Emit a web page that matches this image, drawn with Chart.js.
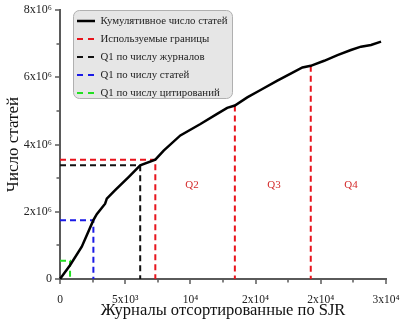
<!DOCTYPE html>
<html>
<head>
<meta charset="utf-8">
<script src="https://cdn.jsdelivr.net/npm/chart.js@4"></script>
<style>
  html, body { margin: 0; padding: 0; background: #fff; }
  #wrap { width: 400px; height: 324px; }
</style>
</head>
<body>
<div id="wrap"><canvas id="chart"></canvas></div>
<script>
// Cumulative number of articles vs. journals sorted by SJR (y in millions)
const journalRank = [0, 770, 1670, 2560, 2820, 3460, 3590, 4230, 5260, 6150, 7310, 7950, 9230,
  10770, 12050, 12820, 13410, 14360, 15380, 16670, 17690, 18590, 19230, 20260, 21280,
  22310, 23080, 23850, 24620];
const cumArticles = [0, 0.41, 0.96, 1.75, 1.93, 2.24, 2.39, 2.64, 3.03, 3.38, 3.55, 3.82, 4.27,
  4.61, 4.91, 5.09, 5.16, 5.40, 5.62, 5.90, 6.11, 6.29, 6.34, 6.49, 6.66,
  6.81, 6.91, 6.96, 7.06];

// Q1 cut-offs: [journals, articles in millions]
const usedBorder = [7310, 3.55];
const q1ByJournals = [6150, 3.38];
const q1ByArticles = [2560, 1.75];
const q1ByCitations = [770, 0.54];

// remaining used borders (Q2/Q3, Q3/Q4)
const borderX = [13410, 19230];
const borderY = [5.16, 6.34];

const quartileNames = ['Q2', 'Q3', 'Q4'];
const quartileX = [10130, 16410, 22310];
const quartileY = [2.79, 2.79, 2.79];

const xTickValues = [0, 5000, 10000, 15000, 20000, 25000];
const xTickLabels = ['0', '5x10³', '10⁴', '2x10⁴', '2x10⁴', '3x10⁴'];
const yTickValues = [0, 2, 4, 6, 8];
const yTickLabels = ['0', '2x10⁶', '4x10⁶', '6x10⁶', '8x10⁶'];

const SERIF = '"Liberation Serif", "Times New Roman", serif';
const AXIS_COLOR = '#5a5a5a';
const RED = '#e8141c';

/**
 * Corner polyline: from the y axis across to the cut-off, then down to the x axis
 */
function cornerLine(pt) {
    return [{ x: 0, y: pt[1] }, { x: pt[0], y: pt[1] }, { x: pt[0], y: 0 }];
}

function dashed(label, color, data, inLegend) {
    return {
        label: label,
        data: data,
        borderColor: color,
        borderWidth: 2,
        borderDash: [6, 4],
        pointRadius: 0,
        showLine: true,
        clip: false,
        inLegend: inLegend,
    };
}

const datasets = [
    {
        label: 'Кумулятивное число статей',
        data: journalRank.map((x, i) => ({ x: x, y: cumArticles[i] })),
        borderColor: '#000',
        borderWidth: 2.5,
        pointRadius: 0,
        showLine: true,
        clip: false,
        inLegend: true,
    },
    dashed('Используемые границы', RED, cornerLine(usedBorder), true),
    dashed('Q1 по числу журналов', '#111', cornerLine(q1ByJournals), true),
    dashed('Q1 по числу статей', '#1a1ae6', cornerLine(q1ByArticles), true),
    dashed('Q1 по числу цитирований', '#22e022', cornerLine(q1ByCitations), true),
];
borderX.forEach((x, i) => {
    datasets.push(dashed('', RED, [{ x: x, y: borderY[i] }, { x: x, y: 0 }], false));
});

/**
 * Tick marks (major longer than minor) drawn outside the axes
 */
const tickMarks = {
    id: 'tickMarks',
    afterDraw(chart) {
        const { ctx, chartArea, scales: { x, y } } = chart;
        ctx.save();
        ctx.strokeStyle = AXIS_COLOR;
        ctx.lineWidth = 1.5;
        x.ticks.forEach(t => {
            const px = Math.round(x.getPixelForValue(t.value));
            const len = xTickValues.includes(t.value) ? 5 : 3.5;
            ctx.beginPath();
            ctx.moveTo(px, chartArea.bottom);
            ctx.lineTo(px, chartArea.bottom + len);
            ctx.stroke();
        });
        y.ticks.forEach(t => {
            const py = Math.round(y.getPixelForValue(t.value));
            const len = yTickValues.includes(t.value) ? 5 : 3.5;
            ctx.beginPath();
            ctx.moveTo(chartArea.left, py);
            ctx.lineTo(chartArea.left - len, py);
            ctx.stroke();
        });
        ctx.restore();
    }
};

/**
 * Quartile names and the boxed legend inside the plot
 */
const annotations = {
    id: 'annotations',
    afterDraw(chart) {
        const { ctx, scales: { x, y } } = chart;
        ctx.save();
        ctx.fillStyle = '#d42a2a';
        ctx.font = '11px ' + SERIF;
        ctx.textAlign = 'center';
        ctx.textBaseline = 'middle';
        quartileNames.forEach((name, i) => {
            ctx.fillText(name, x.getPixelForValue(quartileX[i]), y.getPixelForValue(quartileY[i]));
        });

        // legend box
        const bx = 73, by = 10, bw = 159, bh = 88;
        ctx.beginPath();
        ctx.roundRect(bx + 0.5, by + 0.5, bw, bh, 6);
        ctx.fillStyle = '#e6e6e6';
        ctx.fill();
        ctx.strokeStyle = '#b0b0b0';
        ctx.lineWidth = 1;
        ctx.stroke();

        const items = chart.data.datasets.filter(d => d.inLegend);
        ctx.textAlign = 'left';
        ctx.font = '10.8px ' + SERIF;
        items.forEach((d, i) => {
            const cy = by + 11 + i * 18;
            ctx.beginPath();
            ctx.setLineDash(d.borderDash ? [6, 5] : []);
            ctx.strokeStyle = d.borderColor;
            ctx.lineWidth = d.borderWidth;
            ctx.moveTo(77, cy);
            ctx.lineTo(95, cy);
            ctx.stroke();
            ctx.setLineDash([]);
            ctx.fillStyle = '#222';
            ctx.fillText(d.label, 100.5, cy + 0.5);
        });
        ctx.restore();
    }
};

new Chart(document.getElementById('chart'), {
    type: 'scatter',
    data: { datasets: datasets },
    plugins: [tickMarks, annotations],
    options: {
        responsive: true,
        maintainAspectRatio: false,
        animation: false,
        layout: { padding: { top: 10, right: 14, left: 0, bottom: 0 } },
        plugins: {
            legend: { display: false },
            tooltip: { enabled: false },
        },
        scales: {
            x: {
                type: 'linear',
                min: 0,
                max: 25000,
                afterFit: (scale) => {
                    scale.height = 45;
                    scale.paddingLeft = 0;
                    scale.paddingRight = 0;
                },
                grid: { display: false, drawTicks: false },
                border: { display: true, color: AXIS_COLOR, width: 2 },
                ticks: {
                    stepSize: 2500,
                    autoSkip: false,
                    maxRotation: 0,
                    padding: 14,
                    color: '#222',
                    font: { family: SERIF, size: 11.5 },
                    callback: (v) => {
                        const i = xTickValues.indexOf(v);
                        return i >= 0 ? xTickLabels[i] : '';
                    },
                },
                title: {
                    display: true,
                    text: 'Журналы отсортированные по SJR',
                    color: '#111',
                    font: { family: SERIF, size: 16.5 },
                    padding: { top: 0, bottom: 3 },
                },
            },
            y: {
                type: 'linear',
                min: 0,
                max: 8,
                afterFit: (scale) => {
                    scale.width = 60;
                    scale.paddingTop = 0;
                    scale.paddingBottom = 0;
                },
                grid: { display: false, drawTicks: false },
                border: { display: true, color: AXIS_COLOR, width: 2 },
                ticks: {
                    stepSize: 1,
                    autoSkip: false,
                    padding: 8,
                    color: '#222',
                    font: { family: SERIF, size: 12 },
                    callback: (v) => {
                        const i = yTickValues.indexOf(v);
                        return i >= 0 ? yTickLabels[i] : '';
                    },
                },
                title: {
                    display: true,
                    text: 'Число статей',
                    color: '#111',
                    font: { family: SERIF, size: 17 },
                    padding: { top: 3, bottom: 0 },
                },
            },
        },
    },
});
</script>
</body>
</html>
